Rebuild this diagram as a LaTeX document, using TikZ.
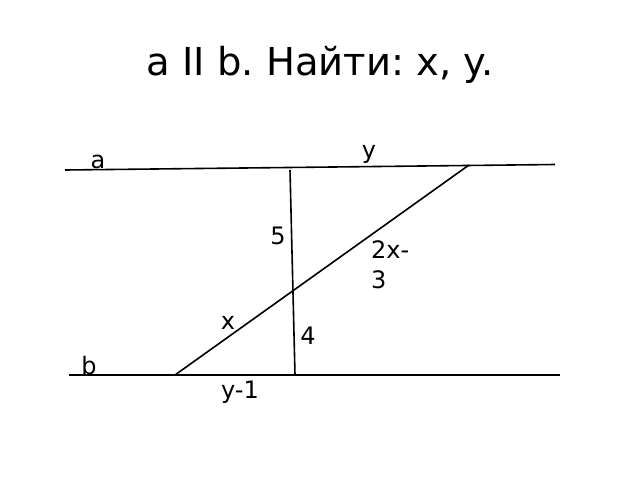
\documentclass[tikz,border=0pt]{standalone}
\usepackage{fontspec}
\setmainfont{DejaVu Sans}
\frenchspacing
\begin{document}
\begin{tikzpicture}[x=1pt,y=-1pt,
  geomline/.style={line width=1.6pt,black},
  lbl/.style={font=\fontsize{24}{30}\selectfont,anchor=base,inner sep=0pt},
  ttl/.style={font=\fontsize{38.5}{44}\selectfont,anchor=base,inner sep=0pt}]
\useasboundingbox[fill=white] (0,0) rectangle (640,480);
\node[ttl] (title) at (320,75) {a II b. Найти: x, y.};
% line a
\coordinate (a1) at (65,170);
\coordinate (a2) at (555,164.5);
% line b
\coordinate (b1) at (69,375);
\coordinate (b2) at (560,375);
% transversals
\coordinate (v1) at (290,170);
\coordinate (v2) at (295,375);
\coordinate (d1) at (469,165);
\coordinate (d2) at (175,375);
\draw[geomline] (a1) -- (a2);
\draw[geomline] (b1) -- (b2);
\draw[geomline] (v1) -- (v2);
\draw[geomline] (d1) -- (d2);
\node[lbl] (la) at (98,168) {a};
\node[lbl] (lb) at (89,374) {b};
\node[lbl] (ly) at (369,158) {y};
\node[lbl] (l5) at (278,244) {5};
\node[lbl,anchor=base west] (l2x) at (371,258) {2x-};
\node[lbl,anchor=base west] (l3) at (371,288) {3};
\node[lbl] (lx) at (228,329) {x};
\node[lbl] (l4) at (308,344) {4};
\node[lbl] (ly1) at (240,398) {y-1};
\end{tikzpicture}
\end{document}
